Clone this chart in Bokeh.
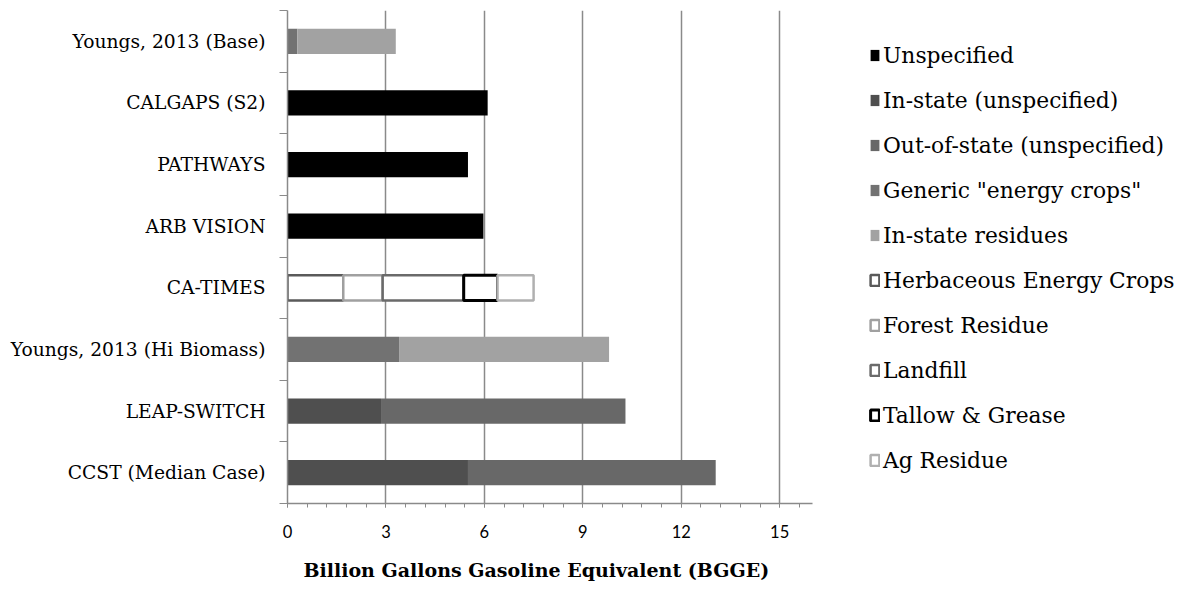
from bokeh.plotting import figure
from bokeh.models import (Range1d, FixedTicker, SingleIntervalTicker, Legend,
                          LegendItem, ColumnDataSource, Title)
from bokeh.embed import file_html
from bokeh.resources import INLINE

# ---- data (top to bottom as in the chart) ----
categories = ["Youngs, 2013 (Base)", "CALGAPS (S2)", "PATHWAYS", "ARB VISION",
              "CA-TIMES", "Youngs, 2013 (Hi Biomass)", "LEAP-SWITCH",
              "CCST (Median Case)"]

series_names = ["Unspecified", "In-state (unspecified)", "Out-of-state (unspecified)",
                'Generic "energy crops"', "In-state residues", "Herbaceous Energy Crops",
                "Forest Residue", "Landfill", "Tallow & Grease", "Ag Residue"]

unspecified          = [0.0, 6.1, 5.5, 5.97, 0.0, 0.0, 0.0, 0.0]
in_state_unspecified = [0.0, 0.0, 0.0, 0.0, 0.0, 0.0, 2.85, 5.5]
out_of_state         = [0.0, 0.0, 0.0, 0.0, 0.0, 0.0, 7.45, 7.55]
generic_energy_crops = [0.3, 0.0, 0.0, 0.0, 0.0, 3.4, 0.0, 0.0]
in_state_residues    = [3.0, 0.0, 0.0, 0.0, 0.0, 6.4, 0.0, 0.0]
herbaceous           = [0.0, 0.0, 0.0, 0.0, 1.7, 0.0, 0.0, 0.0]
forest_residue       = [0.0, 0.0, 0.0, 0.0, 1.2, 0.0, 0.0, 0.0]
landfill             = [0.0, 0.0, 0.0, 0.0, 2.47, 0.0, 0.0, 0.0]
tallow_grease        = [0.0, 0.0, 0.0, 0.0, 1.03, 0.0, 0.0, 0.0]
ag_residue           = [0.0, 0.0, 0.0, 0.0, 1.1, 0.0, 0.0, 0.0]

series_values = [unspecified, in_state_unspecified, out_of_state, generic_energy_crops,
                 in_state_residues, herbaceous, forest_residue, landfill,
                 tallow_grease, ag_residue]

x_axis_max = 16
x_ticks_interval = 3
x_title = "Billion Gallons Gasoline Equivalent (BGGE)"

# ---- styles ----
styles = [
    dict(fill_color="#000000", line_color=None, line_width=0),
    dict(fill_color="#4f4f4f", line_color=None, line_width=0),
    dict(fill_color="#686868", line_color=None, line_width=0),
    dict(fill_color="#727272", line_color=None, line_width=0),
    dict(fill_color="#a2a2a2", line_color=None, line_width=0),
    dict(fill_color="#ffffff", line_color="#5a5a5a", line_width=2.5),
    dict(fill_color="#ffffff", line_color="#a0a0a0", line_width=2.5),
    dict(fill_color="#ffffff", line_color="#6a6a6a", line_width=2.5),
    dict(fill_color="#ffffff", line_color="#000000", line_width=3),
    dict(fill_color="#ffffff", line_color="#b0b0b0", line_width=2.5),
]

# layout in pixels
W, H = 1187, 599
border_left, border_top = 287, 10
frame_h = 493
data_px = 525                      # pixels used by 0..x_axis_max
frame_w = W - border_left
x_end = x_axis_max * frame_w / data_px

n = len(categories)
ypos = [n - i for i in range(n)]

p = figure(width=W, height=H, x_range=Range1d(0, x_end), y_range=Range1d(0.5, n + 0.5),
           output_backend="svg", toolbar_location=None,
           min_border_left=border_left, min_border_right=0, min_border_top=border_top,
           min_border_bottom=H - border_top - frame_h)
p.outline_line_color = None
p.background_fill_color = "white"

left = [0.0] * n
items = []
for name, vals, st in zip(series_names, series_values, styles):
    ys, ls, rs = [], [], []
    for i in range(n):
        if vals[i] > 0:
            ys.append(ypos[i]); ls.append(left[i]); rs.append(left[i] + vals[i])
        left[i] += vals[i]
    src = ColumnDataSource(dict(y=ys, left=ls, right=rs))
    r = p.hbar(y="y", left="left", right="right", height=0.41, source=src,
               fill_color=st["fill_color"], line_color=st["line_color"],
               line_width=st["line_width"] if st["line_color"] else 1)
    items.append(LegendItem(label=name, renderers=[r]))

# ---- axes ----
xa = p.xaxis[0]
xa.ticker = SingleIntervalTicker(interval=x_ticks_interval, num_minor_ticks=5)
xa.bounds = (0, x_axis_max)
xa.axis_line_color = "#8a8a8a"
xa.axis_line_width = 1.5
xa.major_tick_line_color = "#8a8a8a"
xa.minor_tick_line_color = "#8a8a8a"
xa.major_tick_in = 4
xa.major_tick_out = 4
xa.minor_tick_in = 0
xa.minor_tick_out = 4
xa.major_label_text_font = "Lato"
xa.major_label_text_font_size = "16.5px"
xa.major_label_text_color = "black"
xa.major_label_standoff = 17

ya = p.yaxis[0]
ya.ticker = FixedTicker(ticks=ypos, minor_ticks=[k + 0.5 for k in range(n + 1)])
ya.major_label_overrides = {ypos[i]: categories[i] for i in range(n)}
ya.axis_line_color = "#8a8a8a"
ya.axis_line_width = 1.5
ya.major_tick_line_color = None
ya.major_tick_in = 0
ya.major_tick_out = 0
ya.minor_tick_line_color = "#8a8a8a"
ya.minor_tick_in = 0
ya.minor_tick_out = 8
ya.major_label_text_font = "DejaVu Serif"
ya.major_label_text_font_size = "18.7px"
ya.major_label_text_color = "black"
ya.major_label_standoff = 14

p.xgrid.grid_line_color = "#8a8a8a"
p.xgrid.grid_line_width = 1.5
p.xgrid.bounds = (0, x_axis_max)
p.ygrid.grid_line_color = None

title = Title(text=x_title, align="left", offset=16, standoff=33,
              text_font="DejaVu Serif", text_font_style="bold",
              text_font_size="19px", text_color="black")
p.add_layout(title, "below")

legend = Legend(items=items, location=(582, 30))
legend.label_text_font = "DejaVu Serif"
legend.label_text_font_size = "21.8px"
legend.label_text_color = "black"
legend.glyph_width = 11
legend.glyph_height = 14
legend.label_standoff = 3
legend.label_height = 26
legend.spacing = 19
legend.padding = 0
legend.margin = 0
legend.border_line_color = None
legend.background_fill_alpha = 0
p.add_layout(legend, "center")

open("out.html", "w").write(file_html(p, INLINE))
